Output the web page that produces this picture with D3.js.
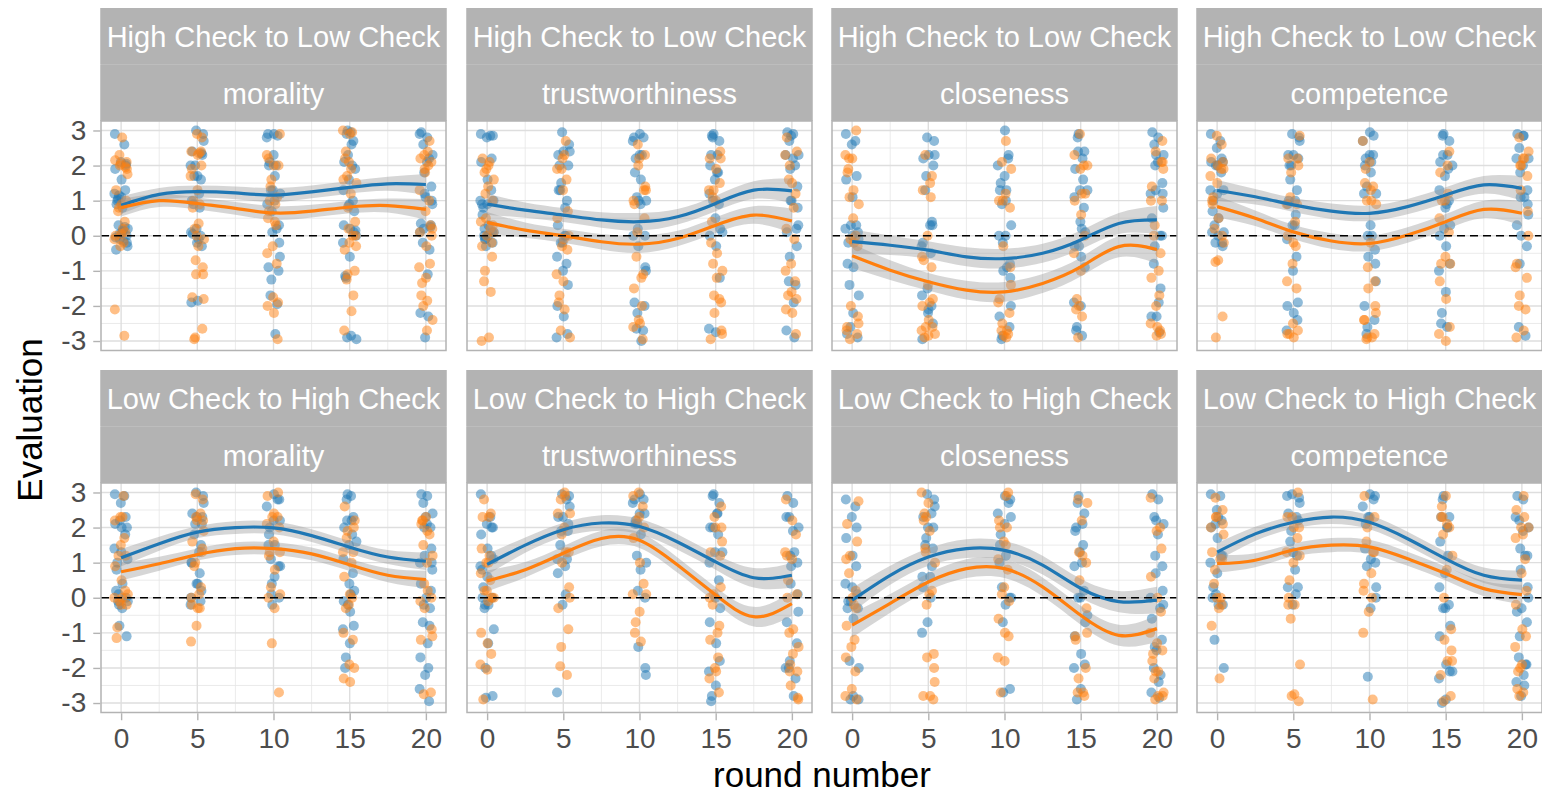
<!DOCTYPE html>
<html>
<head>
<meta charset="utf-8">
<script src="https://cdn.jsdelivr.net/npm/d3@7"></script>
<style>
  body { margin: 0; background: #fff; }
  text { font-family: "Liberation Sans", Arial, sans-serif; }
</style>
</head>
<body>
<div id="chart"></div>
<script>
// facet labels
var directions = ["High Check to Low Check", "Low Check to High Check"];
var traits = ["morality", "trustworthiness", "closeness", "competence"];
var rounds = [0, 5, 10, 15, 20];
var yTicks = [-3, -2, -1, 0, 1, 2, 3];

// x positions of the smooth fits
var fitX = [0, 2.5, 5, 7.5, 10, 12.5, 15, 17.5, 20];

// fitted curves, one row per panel (HC->LC x4, LC->HC x4)
var blueFit = [
  [0.87, 1.18, 1.26, 1.22, 1.16, 1.25, 1.38, 1.48, 1.46],
  [0.90, 0.73, 0.59, 0.45, 0.40, 0.54, 0.92, 1.30, 1.28],
  [-0.17, -0.27, -0.41, -0.60, -0.65, -0.50, -0.12, 0.35, 0.45],
  [1.29, 1.11, 0.88, 0.70, 0.64, 0.83, 1.16, 1.45, 1.35],
  [1.14, 1.54, 1.87, 2.00, 1.99, 1.77, 1.44, 1.16, 1.04],
  [0.95, 1.50, 1.94, 2.13, 2.03, 1.59, 1.02, 0.57, 0.64],
  [-0.07, 0.64, 1.16, 1.40, 1.35, 0.93, 0.27, -0.11, -0.07],
  [1.30, 1.82, 2.15, 2.30, 2.15, 1.68, 1.11, 0.64, 0.50]
];
var orangeFit = [
  [0.80, 1.00, 0.92, 0.78, 0.65, 0.70, 0.82, 0.86, 0.75],
  [0.38, 0.16, 0.00, -0.17, -0.24, -0.08, 0.30, 0.59, 0.42],
  [-0.57, -0.98, -1.31, -1.55, -1.60, -1.36, -0.89, -0.31, -0.39],
  [0.83, 0.50, 0.11, -0.15, -0.22, 0.02, 0.40, 0.75, 0.64],
  [0.74, 0.97, 1.23, 1.40, 1.40, 1.25, 0.94, 0.64, 0.52],
  [0.48, 0.80, 1.27, 1.69, 1.64, 0.93, 0.08, -0.54, -0.17],
  [-0.78, -0.16, 0.45, 0.83, 0.83, 0.31, -0.50, -1.07, -0.88],
  [0.97, 1.07, 1.36, 1.50, 1.45, 1.11, 0.69, 0.26, 0.09]
];
// half width of the confidence band
var fitSe = [
  [0.25, 0.18, 0.17, 0.18, 0.20, 0.18, 0.18, 0.20, 0.30],
  [0.30, 0.22, 0.20, 0.22, 0.25, 0.22, 0.22, 0.25, 0.35],
  [0.35, 0.28, 0.25, 0.27, 0.28, 0.27, 0.27, 0.30, 0.40],
  [0.30, 0.22, 0.20, 0.22, 0.22, 0.22, 0.22, 0.25, 0.35],
  [0.25, 0.20, 0.17, 0.18, 0.18, 0.18, 0.18, 0.20, 0.25],
  [0.30, 0.22, 0.20, 0.22, 0.22, 0.22, 0.22, 0.28, 0.35],
  [0.35, 0.27, 0.25, 0.27, 0.27, 0.27, 0.27, 0.30, 0.38],
  [0.25, 0.20, 0.18, 0.20, 0.20, 0.20, 0.20, 0.22, 0.28]
];

// raw evaluations per panel, per round (0,5,10,15,20)
var bluePts = [
  [[2.9,2.6,2.1,2.0,1.9,1.6,1.3,1.2,1.1,1.0,0.9,0.8,0.3,0.2,0.1,0.05,0.0,-0.1,-0.2,-0.3,-0.4,2.05,1.15,1.05,0.25,0.15,-0.05,-0.15],
   [3.0,2.9,2.7,2.4,2.3,2.0,1.7,1.6,1.2,1.0,0.8,0.2,0.1,0.0,-0.2,-0.3,-1.9,-1.85,2.35,2.0,1.7,0.9,0.05,-0.1],
   [2.9,2.85,2.8,2.3,2.1,2.0,1.7,1.3,1.2,1.0,0.7,0.3,0.1,-0.2,-0.6,-0.9,-1.0,-1.25,-1.7,-1.95,-2.8,2.9,2.0,1.3,0.9,0.2],
   [3.0,2.9,2.7,2.6,2.1,2.0,1.6,1.3,1.0,0.9,0.7,0.3,0.2,0.1,-0.2,-0.6,-1.2,-1.15,-2.85,-2.9,-2.95,2.95,2.3,1.9,0.85,0.15,0.0],
   [2.95,2.8,2.6,2.3,2.1,1.8,1.4,1.2,1.0,0.9,0.35,0.3,0.2,-0.2,-0.4,-1.1,-2.2,-2.3,-2.9,2.9,2.2,1.1,0.25,0.1]],
  [[2.9,2.85,2.8,2.2,2.1,1.6,1.3,1.0,0.9,0.8,0.6,0.3,0.2,0.1,0.0,-0.1,-0.2,-0.3,2.85,1.0,0.9,0.1,-0.1,0.0],
   [2.95,2.6,2.4,2.3,2.0,1.5,1.3,1.0,0.8,0.3,0.0,-0.2,-0.6,-0.8,-1.0,-1.4,-2.0,-2.3,-2.8,-2.9,2.4,2.0,1.3,0.0,-0.2],
   [2.9,2.8,2.7,2.3,2.2,1.8,1.6,1.1,1.0,0.9,0.2,0.0,-0.3,-0.9,-1.0,-1.9,-2.0,-2.2,-2.65,-2.7,-3.0,2.8,2.3,1.0,0.0],
   [2.9,2.8,2.7,2.3,2.0,1.8,1.6,1.2,0.9,0.5,0.2,0.0,-0.3,-1.2,-2.65,-2.75,2.85,2.3,1.8,1.0,0.1],
   [2.95,2.9,2.7,2.3,2.2,1.9,1.4,1.0,0.8,0.3,0.1,-0.3,-0.6,-1.3,-1.4,-1.9,-2.7,-2.9,2.85,2.3,2.0,1.0,0.2]],
  [[2.9,2.7,2.6,1.7,1.6,1.1,0.3,0.2,0.0,-0.2,-0.8,-0.9,-1.4,-1.7,-2.2,-2.6,-2.9,0.3,0.1,-0.1,-2.8],
   [2.8,2.7,2.3,2.2,2.0,1.7,1.3,0.4,0.3,-0.2,-0.5,-1.5,-1.7,-2.0,-2.2,-2.5,-2.95,2.3,0.3,-0.3,-2.1],
   [3.0,2.3,2.0,1.7,1.5,1.3,1.0,0.9,0.3,0.0,-0.2,-0.8,-1.0,-1.2,-2.0,-2.3,-2.6,-2.85,-2.95,2.2,1.3,0.0,-0.9],
   [2.9,2.8,2.4,2.2,1.9,1.6,1.3,1.1,0.8,0.4,0.1,-0.3,-0.6,-0.9,-1.9,-2.0,-2.6,-2.7,-2.85,2.4,1.3,0.2,-0.3],
   [2.95,2.8,2.6,2.3,2.1,2.0,1.5,1.3,1.2,0.8,0.5,0.0,-0.3,-0.8,-1.5,-1.9,-2.3,-2.75,2.3,1.2,0.0,-2.3]],
  [[2.9,2.7,2.5,2.2,2.1,2.0,1.8,1.3,1.2,1.0,0.7,0.5,0.3,0.1,0.0,-0.2,-0.3,2.0,2.1,1.3,0.1,-0.2],
   [2.9,2.8,2.7,2.3,2.2,2.0,1.6,1.3,1.0,0.9,0.6,0.3,-0.1,-0.6,-1.0,-1.9,-2.0,-2.2,-2.4,-2.7,2.3,2.0,1.0,0.3],
   [2.95,2.85,2.7,2.3,2.2,2.0,1.8,1.4,1.2,0.3,0.0,-0.4,-0.6,-0.8,-1.3,-2.0,-2.4,-2.6,-2.8,2.3,2.1,1.2,0.0],
   [2.9,2.85,2.7,2.3,2.1,1.9,1.7,1.3,1.0,0.8,0.3,0.0,-0.3,-0.8,-1.0,-1.6,-2.2,-2.5,-2.6,2.3,2.0,0.9,0.2],
   [2.9,2.85,2.5,2.2,2.0,1.8,1.3,1.1,0.9,0.6,0.3,-0.3,-0.8,-2.6,-2.85,2.85,2.2,1.1,0.0]],
  [[2.95,2.9,2.7,2.3,2.1,2.0,1.8,1.4,1.3,1.0,0.8,0.4,0.1,-0.1,-0.3,-0.8,-1.1,2.2,2.0,1.1,0.2,0.0,-0.2,-0.1],
   [3.0,2.9,2.7,2.4,2.3,2.1,1.8,1.5,1.3,1.0,0.7,0.4,0.0,-0.1,2.3,2.1,1.0,0.4,0.2,-0.2],
   [2.95,2.8,2.6,2.2,2.0,1.8,1.5,1.1,0.9,0.6,0.4,0.0,-0.2,2.8,2.2,1.5,0.9,0.1],
   [2.95,2.8,2.3,2.2,2.0,1.8,1.5,1.1,0.7,0.4,0.2,-0.1,-0.4,-0.8,-0.9,-1.3,-1.7,-2.0,2.9,2.2,1.6,0.1,-0.2],
   [2.95,2.9,2.7,2.4,2.1,2.0,1.4,1.2,1.0,0.8,0.4,0.2,-0.2,-0.7,-0.8,-1.3,-1.7,-2.0,-2.2,-2.6,-2.95,2.3,2.0,1.0,0.0,-0.3]],
  [[2.95,2.3,2.1,2.0,1.8,1.4,1.2,0.9,0.6,0.3,0.0,-0.2,-0.3,-0.9,-1.3,-2.0,-2.8,-2.85,2.0,1.1,0.8,0.0,-0.2],
   [2.95,2.9,2.6,2.3,2.1,1.9,1.5,1.1,0.9,0.7,0.1,-0.2,-2.7,2.8,2.3,1.9,1.1],
   [2.95,2.8,2.7,2.4,2.2,2.1,1.8,1.2,1.0,0.8,0.2,0.0,-1.4,-2.0,-2.2,2.8,2.4,2.1],
   [2.95,2.9,2.7,2.4,2.0,1.8,1.3,1.0,0.5,0.0,-0.3,-0.7,-1.3,-1.8,-2.1,-2.5,-2.8,-2.95,2.4,2.0,1.3],
   [2.9,2.7,2.3,2.0,1.9,1.2,1.0,0.4,0.1,-0.4,-0.7,-1.3,-1.8,-2.0,-2.3,-2.8,2.3,1.3,0.9,-2.0]],
  [[2.8,2.6,2.3,2.0,1.7,1.2,0.9,0.4,0.3,-0.1,-0.3,-0.6,-1.8,-2.0,-2.8,-2.9,0.1,-0.1,-0.3,-2.9],
   [2.95,2.8,2.6,2.3,2.0,1.7,1.5,0.9,0.6,0.3,0.0,-0.7,-1.0,2.4,2.0,1.4,0.6],
   [2.9,2.7,2.4,2.1,1.8,1.5,1.2,0.3,0.0,-0.2,-0.7,-2.6,-2.7,2.8,2.3,1.0,0.0],
   [2.9,2.7,2.4,2.1,1.9,1.5,1.3,0.9,0.2,0.0,-0.7,-1.1,-1.6,-1.9,-2.0,-2.6,-2.9,2.0,1.0,0.0,-0.5],
   [2.95,2.8,2.3,2.1,1.8,1.2,0.9,0.7,0.2,-0.2,-0.6,-1.2,-1.4,-2.0,-2.2,-2.4,-2.7,-2.85,2.2,0.0,-0.3,-1.5]],
  [[2.95,2.9,2.5,2.2,2.0,1.7,1.2,1.0,0.7,0.3,0.0,-0.2,-1.2,-2.0,2.3,2.1,1.2,0.1,-0.2],
   [2.95,2.85,2.7,2.4,2.2,1.9,1.6,1.2,0.8,0.3,0.1,-0.2,2.9,2.3,1.3,0.3],
   [2.95,2.8,2.6,2.3,2.1,1.4,1.1,0.9,0.3,-0.3,-2.25,2.9,2.3,1.0,0.0],
   [2.9,2.8,2.3,2.0,1.6,1.2,0.7,0.3,-0.2,-0.3,-0.8,-1.1,-1.9,-2.1,-2.3,-2.9,-3.0,2.3,2.0,-0.3,-2.1],
   [2.9,2.8,2.2,2.0,1.9,1.4,1.2,0.8,0.3,0.0,-0.4,-0.7,-1.1,-1.7,-1.9,-2.2,-2.4,-2.5,-2.8,2.3,1.2,-0.3,-1.9]]
];
var orangePts = [
  [[2.8,2.3,2.1,2.0,1.9,1.75,1.3,1.0,0.8,0.7,0.4,0.2,0.0,-0.2,-0.3,-2.1,-2.85,2.05,1.95,2.15,0.9,0.1,-0.1,0.05],
   [2.9,2.8,2.4,2.3,2.0,1.7,1.3,1.0,0.8,0.35,0.2,-0.1,-0.3,-0.7,-0.9,-1.1,-1.1,-1.8,-1.75,-2.65,-2.9,-2.95,2.4,2.35,1.9,0.9,0.0],
   [2.9,2.2,2.0,1.6,1.4,1.1,0.9,0.5,0.3,-0.3,-0.5,-0.8,-1.75,-1.9,-2.0,-2.2,-2.95,2.3,2.0,1.0,0.7,0.4],
   [3.0,2.9,2.4,2.2,1.9,1.7,1.5,1.2,0.8,0.4,0.2,0.0,-0.3,-0.4,-1.0,-1.1,-1.25,-1.7,-2.15,-2.7,2.95,2.1,1.6,0.0,-0.2],
   [2.7,2.4,2.2,2.0,1.8,1.3,1.0,0.7,0.3,0.1,-0.3,-0.8,-0.9,-1.2,-1.35,-1.7,-1.85,-2.0,-2.4,-2.7,2.3,2.1,1.9,0.0,0.2]],
  [[2.2,2.0,1.8,1.6,1.4,1.2,1.0,0.5,0.3,0.1,-0.3,-0.6,-1.0,-1.3,-1.6,-2.9,-3.0,2.1,1.9,0.4,0.2,0.0,-0.2],
   [2.7,2.2,1.9,1.6,1.3,0.7,0.5,-0.1,-0.4,-1.1,-1.3,-1.7,-1.9,-2.1,-2.7,-2.9,2.3,1.9,0.0,-0.3],
   [2.6,2.3,2.0,1.4,1.3,0.9,0.5,0.1,-0.6,-1.1,-1.2,-1.5,-2.0,-2.4,-2.6,-2.95,2.2,1.3,1.0,-2.5],
   [2.4,2.2,1.9,1.5,1.3,1.0,0.4,-0.2,-0.5,-0.8,-1.0,-1.2,-1.7,-1.9,-2.2,-2.7,-2.8,-2.95,2.2,1.3,1.1,-1.8],
   [2.8,2.4,2.0,1.6,1.2,0.8,0.2,-0.1,-0.8,-1.0,-1.3,-1.6,-1.8,-2.1,-2.2,-2.8,2.3,1.5,-1.7]],
  [[3.0,2.3,2.2,1.9,1.8,1.3,1.1,0.9,0.5,-0.1,-0.3,-2.0,-2.3,-2.5,-2.6,-2.8,-2.95,2.2,0.0,-0.2,-2.7],
   [2.3,1.7,1.5,1.3,1.1,0.0,-0.6,-0.9,-1.4,-1.8,-2.0,-2.4,-2.6,-2.7,-2.85,-2.9,-0.7,-1.9,-2.6,-2.8],
   [2.7,2.1,1.9,1.2,1.0,0.8,-0.3,-0.9,-1.4,-1.8,-2.2,-2.5,-2.7,-2.8,-2.9,1.0,-2.7,-2.85,-1.9],
   [2.9,2.3,2.0,1.9,1.2,1.0,0.6,0.0,-0.5,-1.0,-1.8,-2.1,-2.3,-2.9,2.0,1.2,-2.0],
   [2.7,2.4,2.1,1.9,1.4,1.0,0.3,0.0,-0.5,-1.0,-1.2,-1.7,-2.0,-2.5,-2.7,-2.85,2.1,1.0,-2.6,-2.8]],
  [[2.85,2.6,2.2,2.0,1.9,1.7,1.5,1.1,0.9,0.5,0.2,-0.2,-0.7,-0.75,-2.3,-2.9,2.1,1.9,1.0,0.0],
   [2.85,2.2,2.0,1.8,1.1,0.9,0.4,0.0,-0.3,-0.8,-1.3,-1.5,-2.5,-2.7,-2.8,-2.9,2.2,0.9,-0.2,-2.8],
   [2.7,2.1,1.9,1.5,1.3,1.0,0.9,-0.2,-0.9,-1.3,-1.5,-2.0,-2.2,-2.4,-2.8,-2.9,-2.95,1.4,1.0,-2.4,-2.9],
   [2.4,2.0,1.8,1.2,1.0,0.5,0.1,-0.6,-0.8,-1.3,-1.8,-2.6,-2.8,-3.0,1.0,-0.8],
   [2.8,2.4,2.2,2.0,1.7,1.3,0.7,0.0,-0.8,-1.2,-1.7,-2.0,-2.1,-2.7,-2.9,2.2,2.0,-0.9]],
  [[2.9,2.3,2.2,1.7,1.5,1.2,0.9,0.5,0.2,0.0,-0.2,-0.85,-1.15,2.3,1.2,0.1,0.0,-0.1,-0.2],
   [2.95,2.8,2.3,2.2,1.9,1.6,1.4,1.0,0.9,0.3,0.1,-0.2,-0.3,-0.8,-1.25,2.4,2.2,1.3,0.0,-0.3],
   [3.0,2.9,2.4,2.3,2.1,1.6,1.3,1.2,0.8,0.3,0.1,-0.3,-1.3,-2.7,2.3,2.0,1.3,0.0],
   [2.6,2.2,1.9,1.7,1.3,1.0,0.6,0.0,-0.2,-1.0,-1.2,-1.9,-2.0,-2.3,-2.4,2.0,1.3,0.1,-0.3],
   [2.3,2.2,2.1,1.9,1.5,1.2,1.0,0.4,0.0,-0.3,-0.9,-1.1,-1.2,-2.7,-2.75,2.2,1.8,0.2,-0.1]],
  [[2.8,2.4,2.3,1.4,1.2,1.0,0.7,0.5,0.2,0.0,-1.0,-1.3,-1.6,-1.9,-2.05,-2.9,2.3,1.0,0.2,0.0,-0.1],
   [3.0,2.8,2.4,2.0,1.8,1.3,1.0,0.3,0.0,-0.3,-0.9,-1.4,-1.95,-2.2,2.9,2.4,1.3],
   [3.0,2.9,2.6,2.3,2.0,1.7,1.0,0.4,0.1,-0.4,-0.7,-1.0,-1.25,2.2,0.1],
   [2.6,2.3,2.0,1.6,1.3,0.3,0.1,-0.2,-0.8,-1.0,-1.2,-1.7,-2.0,-2.3,-2.7,2.0,1.2,0.0,-2.1],
   [2.8,2.2,1.8,1.3,1.1,0.5,0.0,-0.9,-1.0,-1.4,-1.6,-1.9,-2.1,-2.5,-2.85,-2.9,1.2,0.1,-2.1]],
  [[2.75,2.1,1.6,1.2,0.7,0.2,-0.2,-0.8,-1.2,-1.4,-1.7,-2.1,-2.6,-2.9,1.1,0.0,-0.3,-2.8],
   [3.0,2.7,2.4,2.2,1.9,1.3,1.0,0.1,-0.2,-1.6,-1.7,-2.0,-2.4,-2.8,-2.9,2.3,1.4,0.2,-2.8],
   [3.0,2.9,2.2,2.0,1.6,1.1,0.8,0.3,-0.1,-0.6,-1.0,-1.1,-1.7,-1.8,-2.7,2.0,1.5,0.1],
   [2.8,2.7,2.2,1.3,1.0,0.5,-0.3,-1.0,-1.2,-2.0,-2.3,-2.7,-2.8,1.2,-1.1,-2.7],
   [2.85,2.0,1.9,1.4,0.6,0.0,-0.4,-1.0,-1.3,-1.6,-1.8,-2.1,-2.3,-2.7,-2.8,-2.9,-1.5,-2.1,-2.8]],
  [[2.85,2.5,2.3,2.1,1.8,1.3,1.1,0.8,0.4,0.0,-0.3,-0.8,-2.3,2.3,2.0,1.1,0.0,-0.2],
   [3.0,2.3,2.0,1.7,1.3,1.0,0.5,0.0,-0.2,-0.6,-1.9,-2.75,-2.8,-2.95,2.3,2.0,1.2,-0.2],
   [2.9,2.3,2.0,1.6,1.3,0.7,0.4,0.0,-0.4,-1.0,-2.9,2.2,1.3,0.2],
   [2.9,2.6,2.3,2.1,1.8,1.2,0.8,0.0,-0.9,-1.2,-1.5,-1.8,-2.2,-2.8,-2.95,2.3,2.0,-1.8],
   [2.9,2.5,2.3,2.0,1.7,1.1,0.7,0.2,-0.2,-0.9,-1.1,-1.4,-1.9,-2.1,-2.6,-2.7,-2.8,2.0,1.8,-2.0]]
];

// fixed horizontal jitter pattern (in round units)
var jitter = [-0.41, 0.12, 0.33, -0.08, 0.44, -0.25, 0.03, 0.21, -0.36, -0.14, 0.38, 0.07,
              -0.30, 0.27, -0.02, 0.16, -0.20, 0.42, -0.11, 0.09, -0.44, 0.30, -0.05, 0.24,
              -0.33, 0.36, -0.17, 0.01, -0.39];

// layout
var width = 1542, height = 796;
var colLeft = [101, 467, 832, 1197];
var panelW = 345;
var stripTop = [8, 370];
var stripH = 56.5;
var plotH = 229.5;

var blue = "#1f77b4", orange = "#ff7f0e";

var svg = d3.select("#chart").append("svg")
    .attr("width", width)
    .attr("height", height);

svg.append("rect").attr("width", width).attr("height", height).attr("fill", "#fff");

// draw one facet panel
function drawPanel(p) {
    var row = Math.floor(p / 4), col = p % 4;
    var left = colLeft[col];
    var top = stripTop[row] + 2 * stripH;

    var x = d3.scaleLinear().domain([-1.32, 21.32]).range([left, left + panelW]);
    var y = d3.scaleLinear().domain([-3.27, 3.27]).range([top + plotH, top]);

    var g = svg.append("g");

    // clip
    g.append("clipPath").attr("id", "clip" + p)
        .append("rect").attr("x", left).attr("y", top).attr("width", panelW).attr("height", plotH);

    g.append("rect").attr("x", left).attr("y", top).attr("width", panelW).attr("height", plotH)
        .attr("fill", "#fff");

    // minor grid
    var minorY = d3.range(-2.5, 3, 1);
    var minorX = [2.5, 7.5, 12.5, 17.5];
    g.selectAll("line.minory").data(minorY).enter().append("line")
        .attr("x1", left).attr("x2", left + panelW)
        .attr("y1", function(d) { return y(d); }).attr("y2", function(d) { return y(d); })
        .attr("stroke", "#e6e6e6").attr("stroke-width", 0.8);
    g.selectAll("line.minorx").data(minorX).enter().append("line")
        .attr("y1", top).attr("y2", top + plotH)
        .attr("x1", function(d) { return x(d); }).attr("x2", function(d) { return x(d); })
        .attr("stroke", "#e6e6e6").attr("stroke-width", 0.8);

    // major grid
    g.selectAll("line.majory").data(yTicks).enter().append("line")
        .attr("x1", left).attr("x2", left + panelW)
        .attr("y1", function(d) { return y(d); }).attr("y2", function(d) { return y(d); })
        .attr("stroke", "#dedede").attr("stroke-width", 1.4);
    g.selectAll("line.majorx").data(rounds).enter().append("line")
        .attr("y1", top).attr("y2", top + plotH)
        .attr("x1", function(d) { return x(d); }).attr("x2", function(d) { return x(d); })
        .attr("stroke", "#dedede").attr("stroke-width", 1.4);

    var clipped = g.append("g").attr("clip-path", "url(#clip" + p + ")");

    // jittered points
    function addPoints(sets, color, shift) {
        var pts = [];
        sets.forEach(function(vals, r) {
            vals.forEach(function(v, i) {
                pts.push({ r: rounds[r], v: v, j: jitter[(i * 7 + r * 3 + shift) % jitter.length] });
            });
        });
        clipped.append("g").selectAll("circle").data(pts).enter().append("circle")
            .attr("cx", function(d) { return x(d.r + d.j); })
            .attr("cy", function(d) { return y(d.v); })
            .attr("r", 5)
            .attr("fill", color)
            .attr("fill-opacity", 0.5);
    }
    addPoints(bluePts[p], blue, 0);
    addPoints(orangePts[p], orange, 11 + p);

    // confidence bands
    function band(fit) {
        return d3.area()
            .x(function(d, i) { return x(fitX[i]); })
            .y0(function(d, i) { return y(d - fitSe[p][i]); })
            .y1(function(d, i) { return y(d + fitSe[p][i]); })
            .curve(d3.curveNatural)(fit);
    }
    clipped.append("path").attr("d", band(blueFit[p])).attr("fill", "#999").attr("fill-opacity", 0.4);
    clipped.append("path").attr("d", band(orangeFit[p])).attr("fill", "#999").attr("fill-opacity", 0.4);

    // fitted lines
    var line = d3.line()
        .x(function(d, i) { return x(fitX[i]); })
        .y(function(d) { return y(d); })
        .curve(d3.curveNatural);
    clipped.append("path").attr("d", line(blueFit[p])).attr("fill", "none")
        .attr("stroke", blue).attr("stroke-width", 3.2);
    clipped.append("path").attr("d", line(orangeFit[p])).attr("fill", "none")
        .attr("stroke", orange).attr("stroke-width", 3.2);

    // zero line
    g.append("line").attr("x1", left).attr("x2", left + panelW)
        .attr("y1", y(0)).attr("y2", y(0))
        .attr("stroke", "#000").attr("stroke-width", 1.6).attr("stroke-dasharray", "8,5");

    // panel border
    g.append("rect").attr("x", left).attr("y", top).attr("width", panelW).attr("height", plotH)
        .attr("fill", "none").attr("stroke", "#b3b3b3").attr("stroke-width", 1.5);

    // strips
    var labels = [directions[row], traits[col]];
    labels.forEach(function(lab, k) {
        var sy = stripTop[row] + k * stripH;
        g.append("rect").attr("x", left - 0.75).attr("y", sy)
            .attr("width", panelW + 1.5).attr("height", stripH)
            .attr("fill", "#b3b3b3");
        g.append("text").attr("x", left + panelW / 2).attr("y", sy + stripH / 2 + 1)
            .attr("text-anchor", "middle").attr("dominant-baseline", "central")
            .attr("fill", "#fff").attr("font-size", 29).text(lab);
    });
    g.append("line").attr("x1", left).attr("x2", left + panelW)
        .attr("y1", stripTop[row] + stripH).attr("y2", stripTop[row] + stripH)
        .attr("stroke", "#bdbdbd").attr("stroke-width", 1);

    // axes
    if (col === 0) {
        var ay = g.append("g").attr("transform", "translate(" + (left - 0.75) + ",0)")
            .call(d3.axisLeft(y).tickValues(yTicks).tickSize(7).tickPadding(7)
                .tickFormat(function(d) { return String(d); }));
        styleAxis(ay);
    }
    if (row === 1) {
        var ax = g.append("g").attr("transform", "translate(0," + (top + plotH + 0.75) + ")")
            .call(d3.axisBottom(x).tickValues(rounds).tickSize(7).tickPadding(8)
                .tickFormat(function(d) { return String(d); }));
        styleAxis(ax);
    }
}

function styleAxis(a) {
    a.select(".domain").remove();
    a.selectAll(".tick line").attr("stroke", "#b3b3b3").attr("stroke-width", 1.4);
    a.selectAll(".tick text").attr("fill", "#4d4d4d").attr("font-size", 28)
        .attr("font-family", "Liberation Sans, Arial, sans-serif");
}

for (var p = 0; p < 8; p++) drawPanel(p);

// axis titles
svg.append("text").attr("x", 822).attr("y", 787)
    .attr("text-anchor", "middle").attr("font-size", 35).attr("fill", "#000")
    .text("round number");
svg.append("text").attr("transform", "translate(42,420) rotate(-90)")
    .attr("text-anchor", "middle").attr("font-size", 35).attr("fill", "#000")
    .text("Evaluation");
</script>
</body>
</html>
